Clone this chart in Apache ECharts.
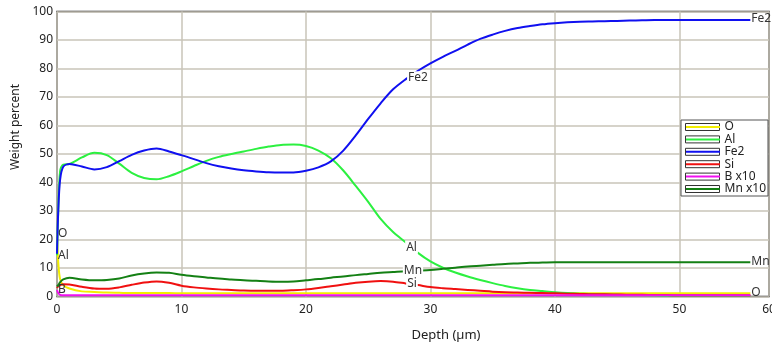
<!DOCTYPE html>
<html><head><meta charset="utf-8">
<script src="https://cdn.jsdelivr.net/npm/echarts@6/dist/echarts.min.js"></script>
<style>html,body{margin:0;padding:0;background:#fff}#c{width:772px;height:345px}</style>
</head><body><div id="c"></div>
<script>
// ---- data ----
const depth = [0,0.1,0.25,0.5,1,2,3,4,5,6,7,8,9,10,11,12,13,14,15,16,17,18,19,20,21,22,23,24,25,26,27,28,29,30,31,32,33,34,35,36,37,38,39,40,41,42,43,44,45,46,47,48,49,50,51,52,53,54,55,55.7];
const seriesNames = ['O','Al','Fe2','Si','B x10','Mn x10'];
const oVals  = [22,12,6,4,2.8,1.8,1.6,1.4,1.3,1.2,1.2,1.2,1.2,1.1,1.1,1.1,1.1,1.1,1.1,1.1,1.1,1.1,1.1,1.1,1.1,1.1,1.1,1.1,1.1,1.1,1.1,1.1,1.1,1.1,1.1,1.1,1.1,1.1,1.1,1.1,1.1,1.1,1.1,1.1,1.1,1.1,1.1,1.1,1.1,1.1,1.1,1.1,1.1,1.1,1.1,1.1,1.1,1.1,1.1,1.1];
const alVals = [14.5,30,44,46.3,46.5,48.8,50.4,49.6,46.6,43.4,41.6,41.1,42.2,43.9,45.8,47.6,49.0,50.0,50.9,51.8,52.6,53.2,53.3,52.8,51.2,48.5,44.2,38.8,33.2,27.2,22.6,19.0,15.3,12.3,10.1,8.4,7.0,5.8,4.7,3.7,2.9,2.3,1.9,1.5,1.2,1.0,0.8,0.7,0.6,0.5,0.5,0.4,0.3,0.3,0.3,0.3,0.3,0.3,0.3,0.3];
const feVals = [15,30,41,45.5,46.5,45.6,44.6,45.4,47.5,49.7,51.2,51.9,50.9,49.6,48.2,46.8,45.7,44.9,44.3,43.9,43.6,43.5,43.5,44.1,45.3,47.4,51.2,56.5,62.3,67.8,72.7,76.2,79.2,81.8,84.1,86.2,88.4,90.4,91.9,93.2,94.2,94.9,95.5,95.9,96.2,96.4,96.5,96.6,96.7,96.8,96.9,97,97,97,97,97,97,97,97,97];
const siVals = [3,3.6,4,4.3,4.2,3.4,2.8,2.7,3.2,4.1,4.9,5.3,4.8,3.8,3.2,2.8,2.5,2.3,2.1,2.0,2.0,2.0,2.2,2.5,3.0,3.6,4.2,4.8,5.2,5.4,5.2,4.6,4.0,3.3,2.9,2.6,2.3,2.0,1.7,1.5,1.4,1.3,1.2,1.1,1.0,0.9,0.8,0.8,0.7,0.6,0.6,0.5,0.5,0.4,0.4,0.4,0.4,0.4,0.4,0.4];
const bVals  = [2.3,1.2,0.6,0.4,0.4,0.4,0.4,0.4,0.4,0.4,0.4,0.4,0.4,0.4,0.4,0.4,0.4,0.4,0.4,0.4,0.4,0.4,0.4,0.4,0.4,0.4,0.4,0.4,0.4,0.4,0.4,0.4,0.4,0.4,0.4,0.4,0.4,0.4,0.4,0.4,0.4,0.4,0.4,0.4,0.4,0.4,0.4,0.4,0.4,0.4,0.4,0.4,0.4,0.4,0.4,0.4,0.4,0.4,0.4,0.4];
const mnVals = [3.5,4,5,6,6.6,6.0,5.7,5.8,6.3,7.4,8.1,8.4,8.3,7.6,7.1,6.7,6.3,6.0,5.7,5.5,5.3,5.2,5.3,5.7,6.1,6.6,7.0,7.5,7.9,8.3,8.6,8.9,9.1,9.3,9.7,10.1,10.5,10.8,11.1,11.4,11.6,11.8,11.9,12,12,12,12,12,12,12,12,12,12,12,12,12,12,12,12,12];
const xTickLabels = ['0','10','20','30','40','50','60'];
// curve labels: [series, depth of labelled point, text, kind]
const curveLabels = [
  ['O',0,'O','start'],['Al',0,'Al','start'],['B x10',0,'B','start'],
  ['Fe2',29,'Fe2','mid'],['Al',28,'Al','mid'],['Mn x10',29,'Mn','mid'],['Si',29,'Si','mid'],
  ['Fe2',55.7,'Fe2','end'],['Mn x10',55.7,'Mn','end'],['O',55.7,'O','end']
];
const valuesByName = {'O':oVals,'Al':alVals,'Fe2':feVals,'Si':siVals,'B x10':bVals,'Mn x10':mnVals};

// ---- style ----
const colors = {'O':'#f2ee00','Al':'#2cf040','Fe2':'#1010f0','Si':'#f01010','B x10':'#f010f0','Mn x10':'#148014'};
const midLabelOffset = {'Fe2':[0,7],'Al':[6,5],'Mn x10':[-5,0],'Si':[-6,-2]};
const FONT = 'Noto Sans';
function buildData(name){
  const vals = valuesByName[name];
  return depth.map((d,i)=>{
    const lab = curveLabels.find(l=>l[0]===name && l[1]===d);
    if(!lab) return [d, vals[i]];
    const base = {show:true, formatter:lab[2], color:'#333', fontSize:12, fontFamily:FONT};
    if(lab[3]==='mid') Object.assign(base,{position:'inside', backgroundColor:'#fff', padding:[0,1], lineHeight:13, offset:midLabelOffset[name]});
    else if(lab[3]==='start') Object.assign(base,{position:'right', distance:1});
    else Object.assign(base,{position:'right', distance:1, offset:[0,-1]});
    return {value:[d, vals[i]], label: base};
  });
}

const series = seriesNames.map(n=>({
  name:n, type:'line', data:buildData(n), smooth:0.3,
  symbol:'circle', symbolSize:0, showSymbol:true,
  lineStyle:{color:colors[n], width:2}, itemStyle:{color:colors[n]},
  emphasis:{disabled:true}, z:2
}));

const legendCommon = {
  orient:'vertical', left:681, top:120, padding:[1,2,1,4],
  itemWidth:34, itemHeight:7, itemGap:0.4, selectedMode:false,
  data:seriesNames
};

const chart = echarts.init(document.getElementById('c'));
chart.setOption({
  animation:false,
  backgroundColor:'#fff',
  grid:{left:57, right:3, top:11.5, bottom:48.5, show:true, borderColor:'#222', borderWidth:1.5, outerBoundsMode:'none', containLabel:false},
  xAxis:{
    type:'value', min:0, max:57.2, interval:10,
    name:'Depth (µm)', nameLocation:'middle', nameGap:32,
    nameTextStyle:{fontFamily:FONT, fontSize:13, color:'#222', padding:[0,0,0,66]},
    axisLine:{show:false}, axisTick:{show:false},
    axisLabel:{fontFamily:FONT, fontSize:12, color:'#222', margin:7,
      formatter:v=>xTickLabels[Math.round(v/10)]},
    splitLine:{show:true, lineStyle:{color:'#c9c5b9', width:1.5}}
  },
  yAxis:{
    type:'value', min:0, max:100, interval:10,
    name:'Weight percent', nameLocation:'middle', nameGap:31,
    nameTextStyle:{fontFamily:FONT, fontSize:12, color:'#222', padding:[0,0,0,54]},
    axisLine:{show:false}, axisTick:{show:false},
    axisLabel:{fontFamily:FONT, fontSize:12, color:'#222', margin:4},
    splitLine:{show:true, lineStyle:{color:'#c9c5b9', width:1.5}}
  },
  legend:[
    Object.assign({}, legendCommon, {
      icon:'rect', backgroundColor:'#fff', borderColor:'#555', borderWidth:1, z:10,
      itemStyle:{color:'#fff', borderColor:'#333', borderWidth:1},
      textStyle:{fontFamily:FONT, fontSize:12, color:'#222', lineHeight:11}
    }),
    Object.assign({}, legendCommon, {
      z:11,
      itemStyle:{opacity:0},
      lineStyle:{width:2},
      textStyle:{fontFamily:FONT, fontSize:12, color:'rgba(0,0,0,0)', lineHeight:11}
    })
  ],
  series:series
});
</script>
</body></html>
